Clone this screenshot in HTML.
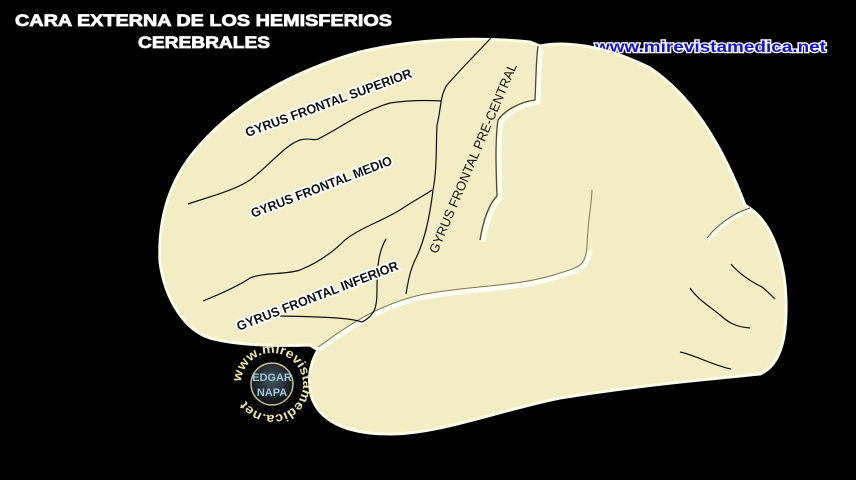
<!DOCTYPE html>
<html><head><meta charset="utf-8"><style>
html,body{margin:0;padding:0;background:#000;width:856px;height:480px;overflow:hidden}
svg{display:block}
</style></head><body>
<svg width="856" height="480" viewBox="0 0 856 480" xmlns="http://www.w3.org/2000/svg">
<defs>
<radialGradient id="lg" cx="50%" cy="40%" r="60%"><stop offset="0" stop-color="#4a5560"/><stop offset="1" stop-color="#0d1014"/></radialGradient>
<path id="ring" d="M 241 384 A 31 31 0 1 1 303 384 A 31 31 0 1 1 241 384"/>
</defs>
<rect width="856" height="480" fill="#000"/>
<g font-family="Liberation Sans, sans-serif" font-weight="bold" font-size="17" fill="#fff" stroke="#fff" stroke-width="0.8">
<text x="15" y="26" textLength="377" lengthAdjust="spacingAndGlyphs">CARA EXTERNA DE LOS HEMISFERIOS</text>
<text x="138" y="48" textLength="132" lengthAdjust="spacingAndGlyphs">CEREBRALES</text>
</g>
<text x="595" y="52" fill="#1010e0" stroke="#fff" stroke-width="2.5" paint-order="stroke" font-family="Liberation Sans, sans-serif" font-weight="bold" font-size="16" textLength="231" lengthAdjust="spacingAndGlyphs">www.mirevistamedica.net</text>

<path d="M160 262 C158 220 168 180 200 145 C235 105 290 72 360 52 C410 40 470 36 530 42 L540 46 C570 40 610 48 650 68 C690 95 720 140 745 205 L752 210 C772 225 785 260 786 300 C787 340 780 365 760 374 C720 378 640 385 560 398 C500 410 440 434 390 434 C345 434 318 420 311 395 C307 375 312 360 318 350 L310 345 C280 346 240 346 210 338 C185 330 165 300 160 262 Z" fill="#f2edc4" stroke="#fbfbe6" stroke-width="3"/>
<path d="M318 350 C340 335 370 310 420 298 C470 288 520 290 560 276 C580 270 588 268 590 250" fill="none" stroke="#fffff4" stroke-width="5"/>
<path d="M318 347 C340 332 370 307 420 295 C470 285 520 287 560 273 C580 267 586 265 587 245 C588 220 592 200 592 190" fill="none" stroke="#7a7650" stroke-width="1"/>
<path d="M538 46 C536 60 536 80 535 100 C520 102 505 110 498 120 C495 140 496 170 497 196 C488 205 483 222 480 240" fill="none" stroke="#fffff0" stroke-width="5" transform="translate(3,2)"/>
<path d="M538 46 C536 60 536 80 535 100 C520 102 505 110 498 120 C495 140 496 170 497 196 C488 205 483 222 480 240" fill="none" stroke="#4a4830" stroke-width="1.3"/>
<path d="M752 210 C735 215 718 228 708 240" fill="none" stroke="#fffff0" stroke-width="3"/>
<path d="M750 208 C733 213 716 226 707 238" fill="none" stroke="#555" stroke-width="1"/>

<g fill="none" stroke="#111" stroke-width="1.2">
<path d="M188 204 C215 195 235 190 250 180 C270 165 285 145 300 140 C310 137 315 142 320 138 C340 128 360 112 390 103 C410 100 425 100 442 101"/>
<path d="M491 38 C475 55 460 70 447 85 C440 95 441 110 437 125 C436 145 437 170 433 190 C430 215 425 240 416 258 C410 270 408 282 406 294"/>
<path d="M203 301 C225 292 240 285 250 278 C265 272 285 275 300 270 C320 262 335 250 345 240 C360 228 380 222 400 210 C415 200 425 195 432 190"/>
<path d="M386 239 C378 252 377 270 377 290 C377 305 376 315 362 322 C350 318 330 317 280 316"/>
<path d="M680 352 C695 355 712 365 731 369"/>
<path d="M690 288 C698 300 712 308 720 315 C728 322 735 327 750 328"/>
<path d="M731 264 C740 275 752 282 762 287 C768 292 772 296 775 299"/>
</g>

<g font-family="Liberation Sans, sans-serif" font-weight="bold" font-size="13" fill="#111" stroke="#fff" stroke-width="3.5" paint-order="stroke" text-anchor="middle">
<text transform="translate(330,107) rotate(-20)" textLength="176" lengthAdjust="spacingAndGlyphs">GYRUS FRONTAL SUPERIOR</text>
<text transform="translate(323,191) rotate(-21)" textLength="150" lengthAdjust="spacingAndGlyphs">GYRUS FRONTAL MEDIO</text>
<text transform="translate(319,300) rotate(-21)" textLength="172" lengthAdjust="spacingAndGlyphs">GYRUS FRONTAL INFERIOR</text>
</g>
<text transform="translate(477,160) rotate(-67)" text-anchor="middle" font-family="Liberation Sans, sans-serif" font-size="13" fill="#111" textLength="205" lengthAdjust="spacingAndGlyphs">GYRUS  FRONTAL  PRE-CENTRAL</text>

<circle cx="272" cy="384" r="21" fill="url(#lg)" stroke="#c8c090" stroke-width="1.5"/>
<text x="272" y="381" text-anchor="middle" font-family="Liberation Sans, sans-serif" font-weight="bold" font-size="11" fill="#9cc8d8">EDGAR</text>
<text x="272" y="396" text-anchor="middle" font-family="Liberation Sans, sans-serif" font-weight="bold" font-size="11" fill="#9cc8d8">NAPA</text>
<text font-family="Liberation Sans, sans-serif" font-weight="bold" font-size="13" fill="#ece3a8"><textPath href="#ring" startOffset="1%" textLength="175" lengthAdjust="spacingAndGlyphs">www.mirevistamedica.net</textPath></text>
</svg>
</body></html>
